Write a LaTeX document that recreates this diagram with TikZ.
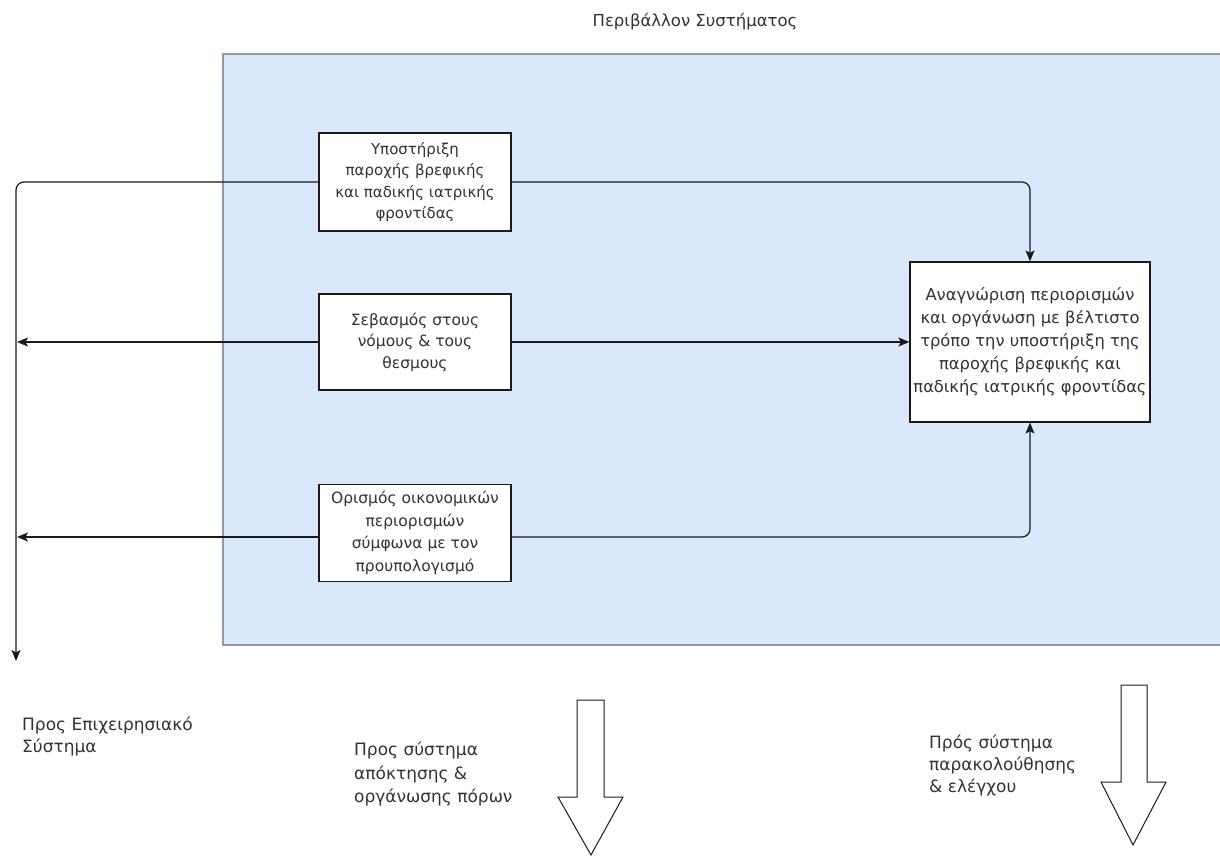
\documentclass[tikz,border=0pt]{standalone}
\usepackage{fontspec}
\setmainfont{DejaVu Sans}
\usetikzlibrary{arrows.meta}
\definecolor{envfill}{HTML}{DAE8FC}
\definecolor{envline}{HTML}{8E98A8}
\definecolor{txt}{HTML}{333333}
\definecolor{ink}{HTML}{1A1A1A}
\begin{document}
\begin{tikzpicture}[x=1pt,y=-1pt,
  every node/.style={text=txt},
  procbox/.style={draw=ink,fill=white,line width=1.2pt,align=center,inner sep=0pt},
  conn/.style={draw=ink,line width=1.2pt,rounded corners=8pt,
    -{Stealth[length=11pt,width=9pt,inset=2.5pt]}},
  lbl/.style={align=left,inner sep=0pt,anchor=north west},
  bigarrow/.style={draw=ink,fill=white,line width=1pt,line join=miter}]
\useasboundingbox (0,0) rectangle (1220,856);
\fill[white] (0,0) rectangle (1220,856);

% system environment
\filldraw[fill=envfill,draw=envline,line width=1.4pt] (223,54) -- (1225,54) -- (1225,645) -- (223,645) -- cycle;
\node[font=\fontsize{16.5}{20}\selectfont] (title) at (695,22) {Περιβάλλον Συστήματος};

% process boxes
\node[procbox,minimum width=192,minimum height=98,font=\fontsize{15}{21.5}\selectfont] (b1) at (415,182)
  {Υποστήριξη\\παροχής βρεφικής\\και παδικής ιατρικής\\φροντίδας};
\node[procbox,minimum width=192,minimum height=96,font=\fontsize{15.5}{21.5}\selectfont] (b2) at (415,342)
  {Σεβασμός στους\\νόμους \& τους\\θεσμους};
\node[procbox,minimum width=192,minimum height=97,font=\fontsize{15.5}{22.5}\selectfont] (b3) at (415,533)
  {Ορισμός οικονομικών\\περιορισμών\\σύμφωνα με τον\\προυπολογισμό};
\node[procbox,minimum width=240,minimum height=160,font=\fontsize{16.3}{23}\selectfont] (b4) at (1030,342)
  {Αναγνώριση περιορισμών\\και οργάνωση με βέλτιστο\\τρόπο την υποστήριξη της\\παροχής βρεφικής και\\παδικής ιατρικής φροντίδας};

% outgoing ends on the left
\coordinate (down) at (16,661);
\coordinate (out2) at (17,342);
\coordinate (out3) at (17,537);

% connectors
\draw[conn] (b1.west) -| (down);
\draw[conn] (b2.west) -- (out2);
\draw[conn] (b3.west |- out3) -- (out3);
\draw[conn] (b1.east) -| (b4.north);
\draw[conn] (b2.east) -- (b4.west);
\draw[conn] (b3.east |- out3) -| (b4.south);

% labels below
\node[lbl,font=\fontsize{17}{22}\selectfont] (l1) at (22,717) {Προς Επιχειρησιακό\\Σύστημα};
\node[lbl,font=\fontsize{17}{23.5}\selectfont] (l2) at (354,742) {Προς σύστημα\\απόκτησης \&\\οργάνωσης πόρων};
\node[lbl,font=\fontsize{17}{22}\selectfont] (l3) at (929,735) {Πρός σύστημα\\παρακολούθησης\\\& ελέγχου};

% block arrows
\draw[bigarrow] (577,700) -- (604,700) -- (604,797) -- (623,797) -- (591,855)
  -- (558,797) -- (577,797) -- cycle;
\draw[bigarrow] (1121,685) -- (1147,685) -- (1147,782) -- (1166,782) -- (1133,845)
  -- (1101,782) -- (1121,782) -- cycle;
\end{tikzpicture}
\end{document}
